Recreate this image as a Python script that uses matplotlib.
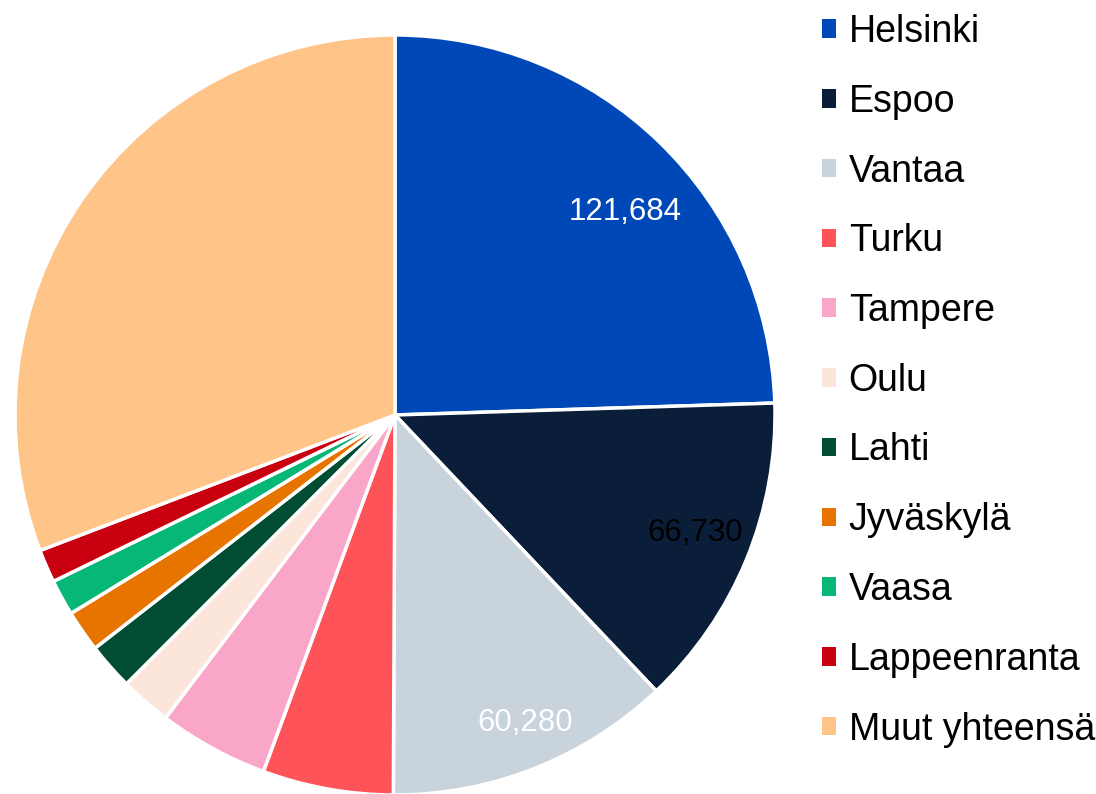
import matplotlib.pyplot as plt
import numpy as np
from matplotlib.patches import Patch

plt.rcParams['font.family'] = ['Liberation Sans', 'DejaVu Sans']

cities = ['Helsinki', 'Espoo', 'Vantaa', 'Turku', 'Tampere', 'Oulu', 'Lahti',
          'Jyväskylä', 'Vaasa', 'Lappeenranta', 'Muut yhteensä']
values = [121684, 66730, 60280, 27600, 23300, 10800, 9900, 8800, 7600, 7000, 153000]
colors = ['#0048B8', '#0A1E3A', '#C9D3DC', '#FF535A', '#F9A6C8', '#FCE5DB',
          '#004D33', '#E87400', '#07B776', '#C8000F', '#FFC488']
# which slices get a value label: colour and nudge (px) from the radial spot
label_style = {0: ('white', (19, -15)), 1: ('black', (19, -2)), 2: ('white', (18, -25))}

W, H = 1096, 794
fig = plt.figure(figsize=(W / 100, H / 100), dpi=100)

cx, cy, r = 395, H - 415, 380
ax = fig.add_axes([(cx - r) / W, (cy - r) / H, 2 * r / W, 2 * r / H])
wedges, _ = ax.pie(values, colors=colors, startangle=90, counterclock=False,
                   radius=1, wedgeprops=dict(edgecolor='white', linewidth=2.5))
ax.set_xlim(-1, 1)
ax.set_ylim(-1, 1)
ax.set_aspect('equal')
ax.axis('off')

for i, (col, off) in label_style.items():
    w = wedges[i]
    mid = np.deg2rad((w.theta1 + w.theta2) / 2)
    d = 0.8
    ax.annotate(f'{values[i]:,}', (d * np.cos(mid), d * np.sin(mid)),
                xytext=(off[0] * 0.72, off[1] * 0.72), textcoords='offset points',
                color=col, fontsize=22.5, ha='center', va='center')

handles = [Patch(facecolor=c, edgecolor='none') for c in colors]
fig.legend(handles, cities, loc='upper left', bbox_to_anchor=(822 / W, 1 - 14 / H),
           frameon=False, fontsize=27, handlelength=0.38, handleheight=0.38,
           handletextpad=0.33, labelspacing=0.9, borderaxespad=0, borderpad=0)

fig.savefig('out.png', dpi=100)
